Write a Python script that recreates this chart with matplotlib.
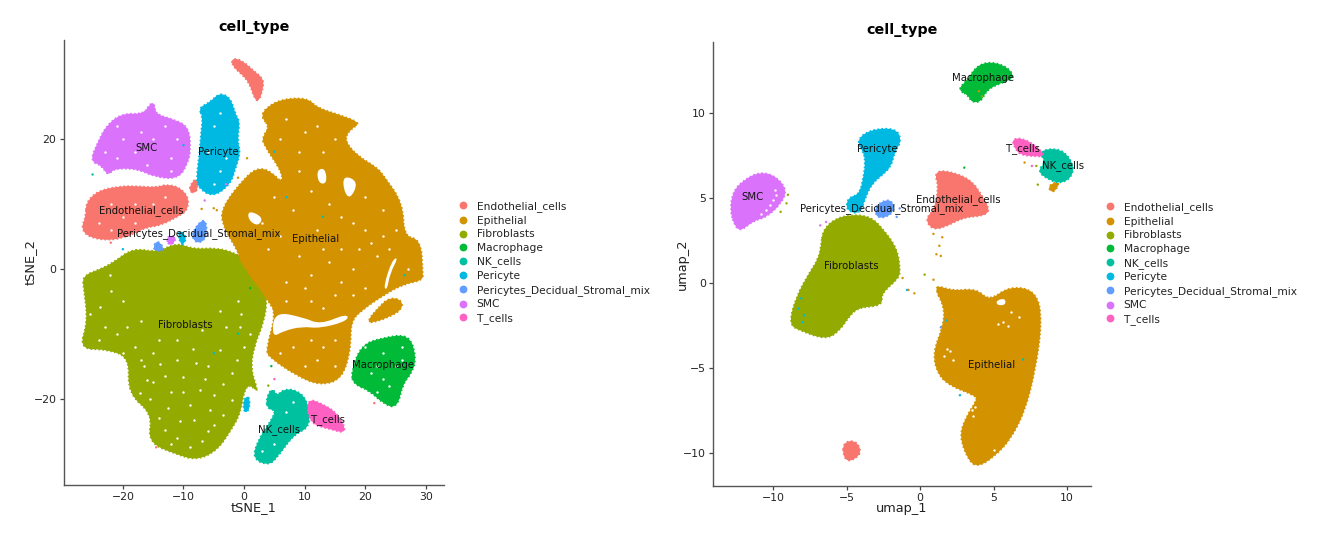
import matplotlib
matplotlib.use('Agg')
import matplotlib.pyplot as plt
from matplotlib.lines import Line2D
from matplotlib.path import Path
from matplotlib.patches import PathPatch

# ggplot hue colours, same order as the legend
cell_types = ['Endothelial_cells', 'Epithelial', 'Fibroblasts', 'Macrophage', 'NK_cells',
              'Pericyte', 'Pericytes_Decidual_Stromal_mix', 'SMC', 'T_cells']
colors = ['#F8766D', '#D39200', '#93AA00', '#00BA38', '#00C19F',
          '#00B9E3', '#619CFF', '#DB72FB', '#FF61C3']

# tSNE cluster outlines
ts_endo = [(-26.0,10.1),(-24.1,11.9),(-20.5,12.6),(-17.7,12.6),(-14.4,12.4),(-12.8,12.9),(-10.6,12.4),(-9.2,10.8),
           (-9.5,9.0),(-10.6,8.3),(-13.9,6.7),(-16.1,6.5),(-18.8,5.2),(-22.1,4.4),(-25.5,4.9),(-26.8,6.2),(-26.0,8.0)]
ts_endo_top = [(-2.0,32.3),(-0.4,32.0),(1.5,30.4),(3.2,29.1),(2.9,27.3),(2.4,25.9),(1.8,26.2),(1.0,28.6),(-0.4,30.1),(-1.7,31.1)]
ts_endo_streak = [(-9.2,12.1),(-7.8,14.2),(-7.8,11.6)]
ts_epi = [(2.9,23.4),(3.7,24.7),(6.2,26.0),(10.4,26.2),(12.0,24.7),(15.3,23.7),(19.2,22.4),(17.5,21.6),(16.4,19.8),
          (18.6,17.3),(21.9,15.5),(23.0,14.2),(26.1,10.1),(26.3,4.9),(29.1,4.4),(29.4,-0.7),(29.4,-1.7),(26.3,-2.3),
          (23.3,-3.8),(19.2,-6.4),(17.5,-8.2),(17.5,-12.5),(16.1,-16.9),(12.6,-17.9),(8.7,-16.4),(4.3,-13.6),(3.7,-12.5),
          (5.4,-6.9),(4.0,-4.8),(2.1,-2.3),(-0.7,1.3),(-0.7,2.4),(-3.4,6.5),(-3.7,9.3),(0.4,14.2),(2.6,15.5),(4.6,14.7),
          (6.2,13.1),(6.5,14.7),(3.2,19.3),(3.2,20.3),(4.3,21.9)]
ts_epi_lobe = [(22.2,-6.1),(23.9,-4.6),(25.8,-4.8),(26.1,-6.1),(23.9,-7.4),(20.8,-8.3),(20.6,-7.9)]
ts_fibro = [(-26.6,-1.2),(-23.8,-0.2),(-21.6,0.8),(-18.3,3.1),(-14.4,2.4),(-11.1,3.9),(-8.4,2.9),(-4.5,3.1),(-1.8,2.4),
            (1.0,1.1),(2.4,-0.7),(3.2,-3.8),(3.7,-4.8),(3.2,-8.2),(1.5,-12.0),(1.0,-15.6),(2.3,-19.0),(1.0,-17.7),
            (-0.1,-18.7),(-0.7,-22.3),(-2.3,-24.9),(-4.5,-27.9),(-7.8,-29.4),(-11.1,-28.5),(-15.8,-26.7),(-15.0,-22.3),
            (-19.1,-19.2),(-18.8,-13.6),(-22.7,-12.3),(-27.1,-12.3),(-25.7,-8.2),(-26.3,-3.3)]
ts_macro = [(17.8,-15.9),(19.4,-11.8),(23.0,-10.7),(27.2,-10.2),(28.3,-13.6),(27.7,-15.9),(26.1,-17.7),(25.2,-21.4),
            (23.0,-20.7),(20.8,-18.7),(18.1,-17.7)]
ts_nk = [(3.7,-20.2),(4.6,-18.4),(5.4,-19.7),(6.5,-18.7),(8.4,-18.7),(10.4,-20.2),(10.9,-24.3),(8.2,-25.4),(5.4,-29.0),
         (4.0,-30.2),(1.5,-29.2),(2.4,-26.4),(4.3,-23.8),(5.4,-21.8),(4.0,-21.5)]
ts_peri = [(-7.4,24.7),(-5.6,25.5),(-4.0,27.0),(-2.3,26.2),(-1.5,23.7),(-0.8,22.6),(-1.2,19.8),(-0.7,17.8),(-1.5,15.5),
           (-2.3,13.1),(-5.1,11.1),(-7.3,12.4),(-7.8,13.7),(-7.3,17.3),(-7.0,20.9),(-6.7,23.4)]
ts_peri_a = [(-10.9,6.0),(-9.5,4.9),(-10.3,3.4)]
ts_peri_b = [(-0.1,-20.5),(0.7,-19.5),(0.9,-21.3),(0.2,-22.3)]
ts_mix_a = [(-8.7,5.4),(-6.4,8.0),(-6.2,4.7),(-7.8,3.9)]
ts_mix_b = [(-14.4,4.4),(-13.1,2.9),(-15.0,2.8)]
ts_smc = [(-25.3,16.6),(-24.1,19.3),(-22.7,21.9),(-20.2,23.8),(-16.6,23.7),(-15.5,25.2),(-14.9,25.5),(-14.7,23.7),
          (-11.7,22.9),(-9.2,21.8),(-8.9,18.3),(-9.4,16.2),(-10.9,13.9),(-14.7,14.2),(-17.7,15.5),(-21.6,15.5),
          (-22.4,14.4),(-23.5,16.0)]
ts_smc_b = [(-12.8,4.9),(-11.1,4.9),(-12.2,3.4)]
ts_t = [(10.4,-20.0),(13.1,-21.0),(15.3,-22.3),(17.0,-25.3),(14.2,-24.6),(10.9,-23.8)]

# white holes inside the tSNE clusters
ts_holes = [[(5.0,-6.6),(9.8,-7.5),(12.6,-8.6),(17.0,-6.9),(17.2,-8.0),(12.6,-9.2),(9.5,-8.9),(6.5,-9.6),(4.6,-10.6)],
            [(24.4,1.3),(25.5,1.8),(24.1,-0.7),(23.6,-3.3),(23.0,-2.8)],
            [(12.0,15.2),(13.4,15.5),(13.7,13.1),(12.3,13.1)],
            [(16.4,14.4),(18.9,13.4),(17.5,10.6),(16.4,12.1)],
            [(0.7,9.0),(3.2,7.9),(2.3,6.5),(0.7,7.5)]]
ts_gaps = [(-8.4,-12.3),(-13.9,-14.6),(-17.2,-19.2),(-10,-16.6),(-7.3,-18.7),(-4,-12.5),(-13.1,-24.9),(-8.2,-23.3),
           (-16,-17.2),(-5.6,-21.8),(-1.2,-14.1),(-3.4,-17.7),(-22.2,-1),(-0.7,-9),(-19.4,-9),(-23.8,-5.9),(-25.4,-7),
           (-11,-14),(-15.5,-20),(-2,-20.2),(-6,-15),(-12,-19),(-9,-21),(-3,-9),(-1,-5),(-6,-25),(-11,-26),(-14,-11),
           (-18,-12),(-20,-5),(5,11),(8,9),(12,6),(16,8),(20,6),(23,9),(14,1),(18,0),(22,2),(10,-3),(15,-4),(20,-3),
           (8,-12),(12,-14),(15,-11),(6,20),(10,21),(13,18),(9,15),(20,11),(4,3),(7,-2),(27,0),(25,6),
           (-20,20),(-15,20),(-12,17),(-18,18),(-5,22),(-4,15),(-20,8),(-15,10),(-24,7),(23,-13),(25,-15),(21,-16),(24,-18),
           (-16.5,-15),(-15,-17.5),(-13,-16.5),(-12.5,-21.5),(-10.5,-23.5),(-8,-14.5),(-6.5,-17),(-5,-19.5),(-3.5,-22.5),
           (-2,-16),(0,-12),(1,-10),(-0.5,-7),(-4,-6.5),(-7,-9.5),(-11,-11),(-17,-14),(-20,-13),(-24,-11),(-21,-10),
           (-14,-23),(-12,-27),(-9,-27.5),(-7,-26.5),(-5,-24),(-10,-19),(-15,-13),(-17,-8),(-23,-9),(-22,-3.5),
           (3,7),(6,5),(9,2),(11,-1),(13,3),(16,3),(19,3),(21,4),(23,5),(24,3),(18,7),(14,10),(11,12),(9,18),(7,23),
           (12,22),(15,20),(11,-5),(13,-6),(16,-2),(18,-4),(7,-5),(6,-13),(10,-15),(13,-12),(15,-15),(11,-11),
           (-23,18),(-21,22),(-17,21),(-13,22),(-11,20),(-21,17),(-16,16),(-12,15),(-6,18),(-5,13),(-3,17),(-4,24),
           (-22,10),(-18,10),(-13,11),(-22,6),(-18,7),(20,-12),(22,-15),(26,-12),(26,-14),(23,-17),(22,-19),
           (7,-22),(8,-20.5),(5,-27),(3,-28)]

# UMAP cluster outlines
um_endo = [(1.0,6.5),(1.8,6.6),(3.4,6.1),(4.2,5.1),(4.7,4.3),(4.3,4.0),(2.9,3.9),(1.6,3.3),(0.8,3.2),(0.4,3.8),(1.0,4.3),(1.3,5.7)]
um_endo_low = [(-5.2,-9.4),(-4.4,-9.3),(-4.0,-10.0),(-4.8,-10.5),(-5.2,-10.2)]
um_epi = [(0.9,-0.1),(2.2,-0.5),(3.8,-0.35),(4.7,-1.1),(6.1,-0.2),(7.9,-0.5),(8.25,-2.3),(7.8,-5.1),(7.1,-7.5),(6.1,-9.2),
          (5.0,-10.2),(3.9,-10.8),(3.3,-10.4),(2.7,-9.0),(3.15,-7.9),(3.9,-6.9),(3.8,-6.6),(2.0,-6.0),(1.2,-5.3),(0.9,-4.1),
          (1.6,-2.55),(1.7,-1.4)]
um_epi_tip = [(8.7,5.7),(9.5,6.0),(9.05,5.3)]
um_fibro = [(-6.6,3.05),(-5.9,3.7),(-4.8,4.0),(-3.4,3.9),(-2.5,3.1),(-1.6,2.0),(-1.4,0.8),(-1.5,0.3),(-2.7,-0.6),(-2.6,-1.3),
            (-4.3,-1.4),(-5.0,-2.1),(-5.5,-2.75),(-6.4,-3.3),(-8.2,-2.75),(-8.9,-2.4),(-8.4,-0.8),(-7.5,0.6),(-6.9,1.4),(-6.7,2.2)]
um_macro = [(2.6,11.4),(3.2,11.9),(3.9,12.8),(4.85,13.0),(5.9,12.7),(6.4,12.1),(5.4,11.8),(4.5,11.4),(4.1,10.7),(3.5,10.7),(3.3,11.1)]
um_nk = [(8.1,7.8),(9.6,7.9),(10.4,7.0),(10.3,6.3),(9.6,5.9),(8.8,6.1),(8.0,6.6),(8.6,7.1)]
um_peri = [(-4.3,8.4),(-3.4,9.0),(-1.7,9.1),(-1.3,8.4),(-1.8,7.7),(-2.0,6.9),(-2.6,6.4),(-3.3,5.9),(-3.8,5.0),(-4.1,4.1),
           (-5.0,4.3),(-4.9,5.0),(-4.1,5.2),(-3.8,6.3),(-3.7,7.1),(-3.8,7.7)]
um_mix = [(-3.0,4.6),(-2.0,4.95),(-1.8,4.3),(-2.3,3.9),(-3.0,3.9)]
um_smc = [(-12.9,4.3),(-12.7,5.4),(-11.9,6.1),(-10.9,6.5),(-9.9,6.3),(-9.1,5.5),(-9.5,4.7),(-10.5,3.9),(-11.4,3.7),(-12.2,3.1),(-12.6,3.4)]
um_t = [(6.3,8.45),(6.9,8.5),(7.7,8.15),(8.5,7.5),(7.7,7.5),(6.8,7.6),(6.45,8.0)]
um_holes = [[(5.2,-1.0),(5.8,-0.9),(5.8,-1.3),(5.2,-1.3)]]
um_gaps = [(2,-4),(1.8,-3.9),(1.6,-4.3),(6,-2.5),(5.6,-2.3),(3.6,-7.8),(3.7,-7.3),(5,-9.8),(-10.2,4.6),(-10,4.9),(-9.8,5.2),
           (5.3,-2.4),(6.2,-1.7),(6.7,-2.0),(2.2,-4.5),(3.5,-7.5),(-9.9,5.5),(-10.5,4.3),(-10.8,4.1)]

# stray dots: x, y, index into colors
ts_strays = [(-6.5,10.5,7),(-5,9.3,1),(-7,9.2,1),(-4.5,9.0,1),(-3,13,7),(-1,14,1),(0.5,17,1),(5,18,5),(-10,19,5),
             (-25,14.5,4),(7,11,5),(13,8,4),(26.5,-1,4),(-1,-10,4),(-5,-13,5),(-22,4,0),(-20,3,5),(1,-3,3),(4,-18,2),
             (5,-17,8),(4.5,-15,3),(21.5,-20.7,0),(-14.5,-27.5,0)]
um_strays = [(0.9,2.9,1),(1.5,2.7,1),(1.3,2.2,1),(1.4,1.6,1),(1.1,1.7,1),(-1.2,0.3,1),(-0.8,-0.4,1),(-0.4,-0.6,1),(0.3,0.5,2),
             (0.9,0.2,1),(-0.9,-0.4,5),(1.4,-2.6,6),(1.8,-2.2,5),(2.7,-6.6,5),(7.0,-4.5,4),(-1.6,3.9,6),(-1.4,4.4,6),
             (-9,5.2,2),(-9.1,4.7,2),(-9.5,4.2,2),(-6.8,3.4,7),(-6.4,3.6,7),(-8.1,-0.9,5),(-7.9,-1.9,5),(-8.3,-1.5,5),(-8,-2.3,5),
             (7.1,7.1,1),(7.6,6.9,8),(7.9,6.9,2),(8.0,5.8,2),(3.0,6.8,3),(4,11.3,1),(4.2,11.0,2)]

# label positions
ts_label_x = [-16.9, 11.8, -9.75, 22.9, 5.7, -4.2, -7.5, -16.1, 13.8]
ts_label_y = [8.9, 4.6, -8.6, -14.9, -24.7, 17.9, 5.4, 18.5, -23.2]
um_label_x = [2.6, 4.85, -4.7, 4.3, 9.7, -2.9, -2.6, -11.4, 7.0]
um_label_y = [4.9, -4.85, 1.0, 12.1, 6.9, 7.9, 4.4, 5.1, 7.9]

ts_clusters = [(ts_fibro, 2), (ts_epi, 1), (ts_epi_lobe, 1), (ts_endo, 0), (ts_endo_top, 0), (ts_endo_streak, 0),
               (ts_macro, 3), (ts_nk, 4), (ts_peri, 5), (ts_peri_a, 5), (ts_peri_b, 5), (ts_mix_a, 6), (ts_mix_b, 6),
               (ts_smc, 7), (ts_smc_b, 7), (ts_t, 8)]
um_clusters = [(um_fibro, 2), (um_epi, 1), (um_epi_tip, 1), (um_endo, 0), (um_endo_low, 0), (um_macro, 3), (um_nk, 4),
               (um_peri, 5), (um_mix, 6), (um_smc, 7), (um_t, 8)]


def blob(outline):
    # closed quadratic curve with the outline points as control points
    n = len(outline)
    mids = [((outline[i][0] + outline[(i + 1) % n][0]) / 2, (outline[i][1] + outline[(i + 1) % n][1]) / 2) for i in range(n)]
    verts = [mids[-1]]
    codes = [Path.MOVETO]
    for i in range(n):
        verts += [outline[i], mids[i]]
        codes += [Path.CURVE3, Path.CURVE3]
    return Path(verts, codes)


def draw_panel(ax, clusters, holes, gaps, strays, label_x, label_y, xlabel, ylabel, xlim, ylim, xticks, yticks, title_pad, ypad):
    for outline, c in clusters:
        ax.add_patch(PathPatch(blob(outline), facecolor=colors[c], edgecolor=colors[c], lw=1.0, zorder=2))
        # dotted rim so the edge looks like single points
        ax.add_patch(PathPatch(blob(outline), fill=False, edgecolor=colors[c], lw=2.2, ls=(0, (0.5, 0.8)), zorder=2))
    for outline in holes:
        ax.add_patch(PathPatch(blob(outline), facecolor='white', edgecolor='none', zorder=3))
    xs, ys = zip(*gaps)
    ax.scatter(xs, ys, s=3, color='white', lw=0, zorder=3)
    xs, ys, cs = zip(*strays)
    ax.scatter(xs, ys, s=3, c=[colors[c] for c in cs], lw=0, zorder=4)
    for name, x, y in zip(cell_types, label_x, label_y):
        ax.text(x, y, name, ha='center', va='center', fontsize=7.3, color='#111111', zorder=5)
    ax.set_title('cell_type', fontsize=10.3, fontweight='bold', pad=title_pad)
    ax.set_xlabel(xlabel, fontsize=9.3, color='#222222', labelpad=-0.5)
    ax.set_ylabel(ylabel, fontsize=9.3, color='#222222', labelpad=ypad)
    ax.set_xlim(xlim)
    ax.set_ylim(ylim)
    ax.set_xticks(xticks)
    ax.set_yticks(yticks)
    ax.tick_params(labelsize=7.8, length=3, width=0.9, color='#444444', labelcolor='#222222', pad=2)
    ax.spines['top'].set_visible(False)
    ax.spines['right'].set_visible(False)
    ax.spines['left'].set_linewidth(1.0)
    ax.spines['bottom'].set_linewidth(1.0)
    ax.spines['left'].set_color('#555555')
    ax.spines['bottom'].set_color('#555555')


W, H = 1328, 541
fig = plt.figure(figsize=(W / 100, H / 100), dpi=100)
ax1 = fig.add_axes([63.5 / W, 1 - 485 / H, (444 - 63.5) / W, (485 - 40) / H])
ax2 = fig.add_axes([713 / W, 1 - 485.7 / H, (1090.7 - 713) / W, (485.7 - 42) / H])

draw_panel(ax1, ts_clusters, ts_holes, ts_gaps, ts_strays, ts_label_x, ts_label_y, 'tSNE_1', 'tSNE_2',
           (-29.8, 33.0), (-33.3, 35.2), [-20, -10, 0, 10, 20, 30], [-20, 0, 20], 6.5, -2.5)
draw_panel(ax2, um_clusters, um_holes, um_gaps, um_strays, um_label_x, um_label_y, 'umap_1', 'umap_2',
           (-14.1, 11.6), (-11.93, 14.2), [-10, -5, 0, 5, 10], [-10, -5, 0, 5, 10], 6, -4)

handles = [Line2D([], [], marker='o', ls='', ms=4.6, color=c) for c in colors]
for anchor_x, anchor_y in [(456 / W, 1 - 262.5 / H), (1103 / W, 1 - 263.5 / H)]:
    fig.legend(handles, cell_types, loc='center left', bbox_to_anchor=(anchor_x, anchor_y), frameon=False,
               fontsize=7.7, labelspacing=0.34, handletextpad=0.64, handlelength=1.3, borderpad=0, borderaxespad=0,
               labelcolor='#222222')

fig.savefig('out.png', dpi=100)
